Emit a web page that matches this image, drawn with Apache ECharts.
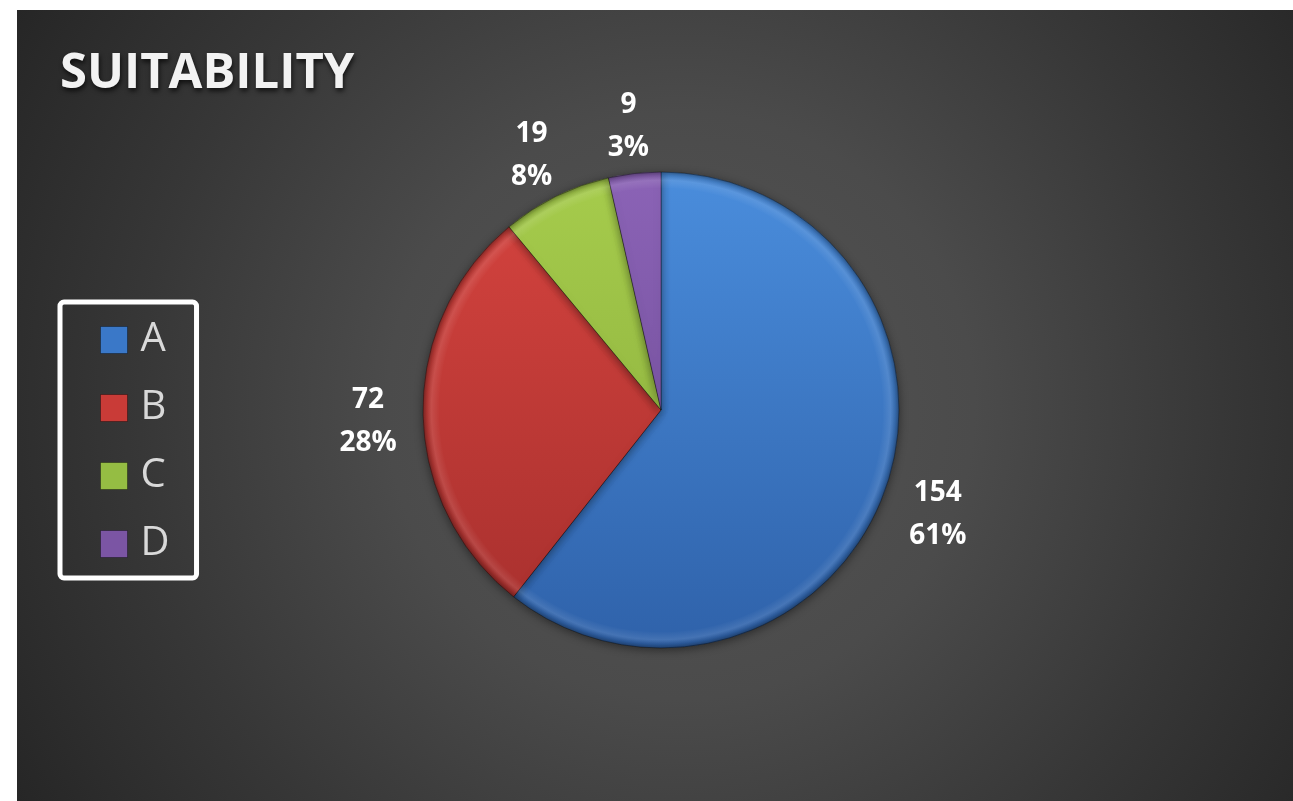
<!DOCTYPE html>
<html>
<head>
<meta charset="utf-8">
<script src="https://cdn.jsdelivr.net/npm/echarts@6/dist/echarts.min.js"></script>
<style>
  html, body { margin: 0; padding: 0; background: #ffffff; width: 1293px; height: 801px; overflow: hidden; }
  #panel {
    position: absolute; left: 17px; top: 10px; width: 1276px; height: 791px;
    background: radial-gradient(circle farthest-corner at 52% 50%, #555555 0%, #4b4b4b 38%, #373737 70%, #262626 100%);
  }
  #chart { width: 1276px; height: 791px; }
</style>
</head>
<body>
<div id="panel"><div id="chart"></div></div>
<script>
// ---- data ----
const titleText = 'SUITABILITY';
const categories = ['A', 'B', 'C', 'D'];
const values = [154, 72, 19, 9];
const percentLabels = ['61%', '28%', '8%', '3%'];
const topColors = ['#4a8ddc', '#d6443f', '#a6cc4c', '#8b63b6'];
const bottomColors = ['#2f62aa', '#a62f2d', '#86a93a', '#6a4892'];
const legendColors = ['#3a78c8', '#c93b37', '#95bd43', '#7b55a4'];

// ---- layout ----
const cx = 644, cy = 400, R = 238;

const chart = echarts.init(document.getElementById('chart'), null, { renderer: 'canvas' });

const pieData = categories.map((name, i) => ({
  name: name,
  value: values[i],
  itemStyle: {
    color: {
      type: 'linear', global: true, x: 0, y: cy - R, x2: 0, y2: cy + R,
      colorStops: [
        { offset: 0, color: topColors[i] },
        { offset: 1, color: bottomColors[i] }
      ]
    }
  }
}));

const rimData = categories.map((name, i) => ({ name: name, value: values[i] }));
const labelData = categories.map((name, i) => ({ name: name, value: values[i] }));

const option = {
  animation: false,
  backgroundColor: 'transparent',
  title: {
    text: titleText,
    left: 38,
    top: 35,
    textStyle: {
      fontFamily: 'Open Sans',
      fontWeight: 700,
      fontSize: 49,
      color: '#f2f2f2',
      textShadowColor: 'rgba(0,0,0,0.7)',
      textShadowBlur: 5,
      textShadowOffsetX: 1,
      textShadowOffsetY: 3
    }
  },
  legend: {
    orient: 'vertical',
    left: 43,
    top: 292,
    padding: [18, 27, 14, 40],
    borderColor: '#ffffff',
    borderWidth: 5,
    borderRadius: 4,
    itemWidth: 27,
    itemHeight: 27,
    itemGap: 28,
    icon: 'rect',
    selectedMode: false,
    textStyle: {
      fontFamily: 'Open Sans',
      fontSize: 40,
      lineHeight: 40,
      color: '#d9d9d9',
      padding: [0, 0, 0, 8]
    },
    data: categories.map((name, i) => ({
      name: name,
      itemStyle: { color: legendColors[i], borderColor: 'rgba(0,0,0,0.35)', borderWidth: 1 }
    }))
  },
  series: [
    {
      type: 'pie',
      center: [cx, cy],
      radius: [0, R],
      startAngle: 90,
      clockwise: true,
      label: { show: false },
      labelLine: { show: false },
      itemStyle: {
        borderColor: 'rgba(0,0,0,0.35)',
        borderWidth: 1,
        shadowBlur: 10,
        shadowColor: 'rgba(0,0,0,0.45)',
        shadowOffsetY: 2
      },
      emphasis: { disabled: true },
      data: pieData
    },
    {
      type: 'pie',
      center: [cx, cy],
      radius: [R - 16, R],
      startAngle: 90,
      clockwise: true,
      silent: true,
      label: { show: false },
      labelLine: { show: false },
      itemStyle: {
        color: {
          type: 'radial', global: true, x: cx, y: cy, r: R,
          colorStops: [
            { offset: 0.93, color: 'rgba(255,255,255,0)' },
            { offset: 0.965, color: 'rgba(255,255,255,0.10)' },
            { offset: 0.985, color: 'rgba(0,0,0,0.12)' },
            { offset: 1, color: 'rgba(0,0,0,0.35)' }
          ]
        }
      },
      emphasis: { disabled: true },
      data: rimData
    },
    {
      type: 'pie',
      center: [cx, cy],
      radius: [R + 36, R + 68],
      startAngle: 90,
      clockwise: true,
      silent: true,
      itemStyle: { color: 'rgba(0,0,0,0)' },
      label: {
        show: true,
        position: 'inside',
        offset: [0, 8],
        fontFamily: 'Open Sans',
        fontWeight: 700,
        fontSize: 28,
        lineHeight: 43,
        color: '#ffffff',
        formatter: function (p) { return p.value + '\n' + percentLabels[p.dataIndex]; }
      },
      labelLine: { show: false },
      emphasis: { disabled: true },
      data: labelData
    }
  ]
};

chart.setOption(option);
</script>
</body>
</html>
